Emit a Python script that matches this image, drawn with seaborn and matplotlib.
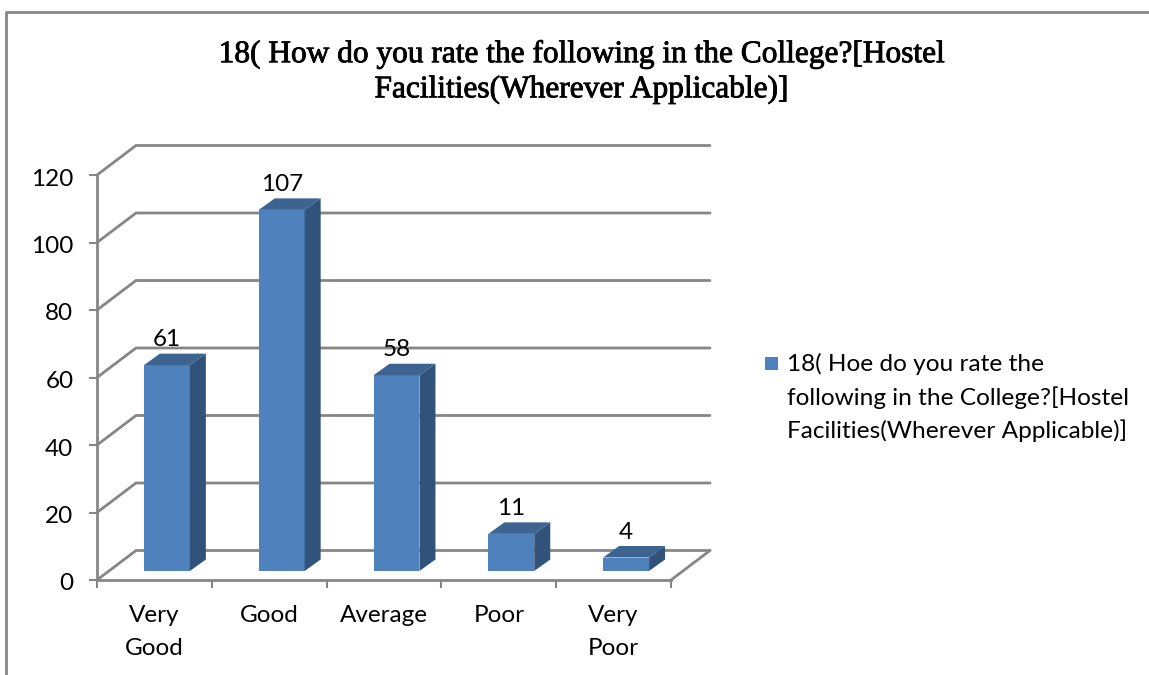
import matplotlib
matplotlib.use('Agg')
import matplotlib.pyplot as plt
import matplotlib.patheffects as pe
import pandas as pd
import seaborn as sns
from matplotlib.patches import Polygon, Rectangle
from matplotlib.transforms import ScaledTranslation

categories = ['Very\nGood', 'Good', 'Average', 'Poor', 'Very\nPoor']
counts = [61, 107, 58, 11, 4]
y_ticks = [0, 20, 40, 60, 80, 100, 120]

title = '18( How do you rate the following in the College?[Hostel\nFacilities(Wherever Applicable)]'
legend_text = '18( Hoe do you rate the\nfollowing in the College?[Hostel\nFacilities(Wherever Applicable)]'

W, H = 1149, 675
GREY = '#868686'
FRONT = '#4f81bd'
TOP = '#3d6491'
SIDE = '#31527b'

sns.set_theme(style='white')
plt.rcParams['font.family'] = ['Lato', 'DejaVu Sans']

df = pd.DataFrame({'category': categories, 'count': counts})


def px_axes(left, right, top, bottom):
    return fig.add_axes([left / W, 1 - bottom / H, (right - left) / W, (bottom - top) / H])


fig = plt.figure(figsize=(W / 100, H / 100), dpi=100)

# front plane carries the real axis, bars sit a bit behind it on their own axes
ax = px_axes(97, 671, 175, 580)
ax.set_xlim(-0.5, 4.5)
ax.set_ylim(0, 120)
ax.patch.set_alpha(0)
for name in ['top', 'right']:
    ax.spines[name].set_visible(False)
for name in ['left', 'bottom']:
    ax.spines[name].set_color(GREY)
    ax.spines[name].set_linewidth(2.0)

ax.set_yticks(y_ticks)
ax.set_xticks([i - 0.5 for i in range(6)])
ax.set_xticklabels([])
ax.set_xticks(range(5), minor=True)
ax.set_xticklabels(categories, minor=True, fontsize=17.5, color='black', linespacing=1.7)
ax.tick_params(axis='x', which='major', length=6, width=1.5, color=GREY, direction='out', bottom=True)
ax.tick_params(axis='x', which='minor', length=0, pad=18)
ax.tick_params(axis='y', length=5.5, width=1.5, color=GREY, left=True, labelsize=17.5, labelcolor='black', pad=11.5)
for label in ax.get_yticklabels():
    label.set_transform(label.get_transform() + ScaledTranslation(0, -0.02, fig.dpi_scale_trans))

# depth of the floor and walls, in data units of the front plane
dx = 39 / 114.8
dy = 29.5 / 3.375
for v in y_ticks:
    ax.plot([-0.5, -0.5 + dx, 4.5 + dx], [v, v + dy, v + dy], color=GREY, lw=2.0,
            clip_on=False, solid_joinstyle='miter', zorder=1)
ax.plot([4.5, 4.5 + dx], [0, dy], color=GREY, lw=2.0, clip_on=False, zorder=1)

bar_ax = px_axes(109.5, 683.5, 166, 571)
bar_ax.set_xlim(-0.5, 4.5)
bar_ax.set_ylim(0, 120)
bar_ax.patch.set_alpha(0)
sns.barplot(data=df, x='category', y='count', color=FRONT, saturation=1, width=0.4, linewidth=0,
            ax=bar_ax, zorder=3)
bar_ax.set_xlim(-0.5, 4.5)
bar_ax.set_ylim(0, 120)
bar_ax.axis('off')

bar_dx = 16 / 114.8
bar_dy = 11.5 / 3.375
for patch, value in zip(list(bar_ax.patches), counts):
    x0 = patch.get_x()
    x1 = x0 + patch.get_width()
    h = patch.get_height()
    bar_ax.add_patch(Polygon([(x0, h), (x1, h), (x1 + bar_dx, h + bar_dy), (x0 + bar_dx, h + bar_dy)],
                             closed=True, fc=TOP, ec='none', clip_on=False, zorder=3))
    bar_ax.add_patch(Polygon([(x1, 0), (x1 + bar_dx, bar_dy), (x1 + bar_dx, h + bar_dy), (x1, h)],
                             closed=True, fc=SIDE, ec='none', clip_on=False, zorder=3))
    bar_ax.text((x0 + x1) / 2, h + bar_dy + 1.0, str(value), ha='center', va='bottom',
                fontsize=17.5, color='black', clip_on=False, zorder=4)

# outer chart frame, only top and left are inside the crop
fig.add_artist(plt.Line2D([6 / W, 6 / W, 1], [0, 1 - 12 / H, 1 - 12 / H], color=GREY, lw=2.0,
                          transform=fig.transFigure))

title_text = fig.text(582 / W, 1 - 72 / H, title, ha='center', va='center', fontsize=22.6,
                      family=['Liberation Serif', 'DejaVu Serif'], color='black', linespacing=1.25)
title_text.set_path_effects([pe.withStroke(linewidth=0.6, foreground='black')])

fig.add_artist(Rectangle((765 / W, 1 - 370 / H), 13 / W, 13 / H, fc=FRONT, ec='none',
                         transform=fig.transFigure))
fig.text(787 / W, 1 - 397.5 / H, legend_text, ha='left', va='center', fontsize=17.6, color='black',
         linespacing=1.56)

fig.savefig('out.png', dpi=100)
